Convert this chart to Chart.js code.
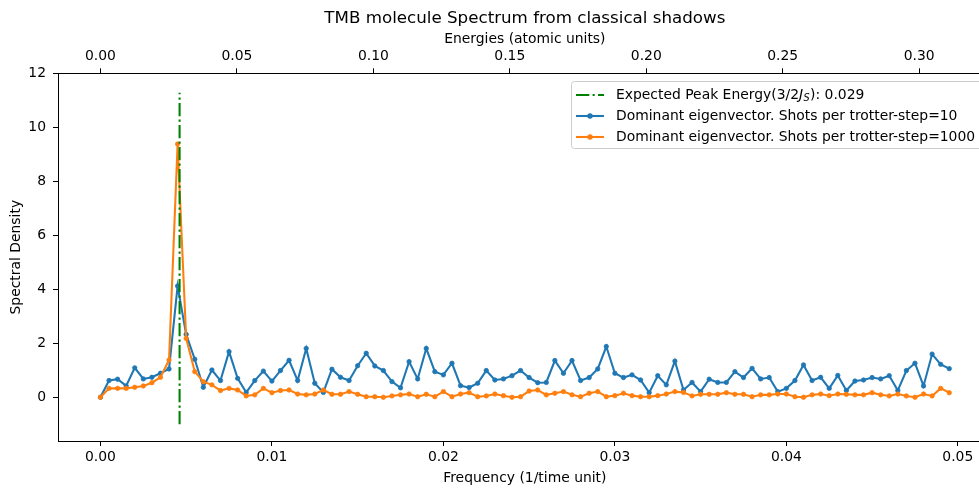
<!DOCTYPE html>
<html><head><meta charset="utf-8">
<script src="https://cdn.jsdelivr.net/npm/chart.js@4.4.1/dist/chart.umd.min.js"></script>
<style>
html,body{margin:0;padding:0;background:#fff;overflow:hidden;width:979px;height:489px;}
#wrap{width:979px;height:489px;overflow:hidden;position:relative;background:#fff;}
canvas{display:block;}
</style></head><body>
<div id="wrap"><canvas id="c" width="1000" height="489" style="width:1000px;height:489px"></canvas></div>
<script>
// ---- data ----
const frequencies = [0,0.0005,0.001,0.0015,0.002,0.0025,0.003,0.0035,0.004,0.0045,
0.005,0.0055,0.006,0.0065,0.007,0.0075,0.008,0.0085,0.009,0.0095,
0.01,0.0105,0.011,0.0115,0.012,0.0125,0.013,0.0135,0.014,0.0145,
0.015,0.0155,0.016,0.0165,0.017,0.0175,0.018,0.0185,0.019,0.0195,
0.02,0.0205,0.021,0.0215,0.022,0.0225,0.023,0.0235,0.024,0.0245,
0.025,0.0255,0.026,0.0265,0.027,0.0275,0.028,0.0285,0.029,0.0295,
0.03,0.0305,0.031,0.0315,0.032,0.0325,0.033,0.0335,0.034,0.0345,
0.035,0.0355,0.036,0.0365,0.037,0.0375,0.038,0.0385,0.039,0.0395,
0.04,0.0405,0.041,0.0415,0.042,0.0425,0.043,0.0435,0.044,0.0445,
0.045,0.0455,0.046,0.0465,0.047,0.0475,0.048,0.0485,0.049,0.0495];

const shots10 = [0,0.62,0.67,0.42,1.09,0.68,0.74,0.89,1.05,4.12,
2.33,1.41,0.37,1.01,0.62,1.69,0.70,0.18,0.62,0.97,
0.60,0.99,1.37,0.62,1.81,0.52,0.18,1.04,0.74,0.62,
1.17,1.63,1.16,0.99,0.58,0.35,1.32,0.68,1.81,0.95,
0.83,1.26,0.43,0.36,0.52,0.99,0.64,0.68,0.80,0.99,
0.73,0.54,0.55,1.36,0.89,1.36,0.62,0.73,1.05,1.88,
0.89,0.73,0.83,0.64,0.17,0.80,0.46,1.34,0.27,0.55,
0.21,0.67,0.55,0.55,0.95,0.73,1.07,0.68,0.73,0.21,
0.33,0.62,1.20,0.62,0.74,0.33,0.81,0.25,0.60,0.64,
0.73,0.68,0.80,0.25,0.99,1.26,0.42,1.60,1.22,1.06];

const shots1000 = [0,0.33,0.33,0.33,0.37,0.42,0.54,0.74,1.38,9.38,
2.18,0.95,0.58,0.46,0.25,0.33,0.27,0.05,0.09,0.33,
0.17,0.25,0.27,0.12,0.09,0.12,0.27,0.11,0.11,0.21,
0.11,0.02,0.02,0.00,0.05,0.09,0.12,0.02,0.11,0.02,
0.21,0.02,0.12,0.17,0.02,0.05,0.12,0.06,0.00,0.02,
0.23,0.27,0.09,0.15,0.21,0.09,0.02,0.15,0.21,0.02,
0.06,0.15,0.06,0.02,0.02,0.06,0.12,0.21,0.18,0.05,
0.11,0.11,0.11,0.17,0.11,0.11,0.02,0.09,0.09,0.12,
0.12,0.02,0.00,0.09,0.12,0.06,0.12,0.11,0.09,0.09,
0.17,0.09,0.05,0.12,0.05,0.00,0.12,0.05,0.33,0.17];

const peakEnergy = 0.029;
const vlineRange = [-1, 11.28];

const freqTicks = [0, 0.01, 0.02, 0.03, 0.04, 0.05];
const energyTicks = [0, 0.05, 0.10, 0.15, 0.20, 0.25, 0.30];
const densityTicks = [0, 2, 4, 6, 8, 10, 12];

const seriesLabels = [
  'Expected Peak Energy',
  'Dominant eigenvector. Shots per trotter-step=10',
  'Dominant eigenvector. Shots per trotter-step=1000'
];

// ---- styling / scale setup ----
const TWO_PI = 2 * Math.PI;
const xMin = -0.002475, xMax = 0.051975;
const FONT = 'DejaVu Sans';
const FS = 13.9;
const tickFont = {family: FONT, size: FS};
const BLUE = '#1f77b4', ORANGE = '#ff7f0e', GREEN = '#008000';
const DASHDOT = [13.3, 3.3, 2.1, 3.3];
const LW = 2.08;

const xy = (xs, ys) => xs.map((x, i) => ({x: x, y: ys[i]}));
const peakFreq = peakEnergy / TWO_PI;

const bgPlugin = {
  id: 'bg',
  beforeDraw(chart) {
    const ctx = chart.ctx;
    ctx.save(); ctx.fillStyle = '#fff';
    ctx.fillRect(0, 0, chart.width, chart.height); ctx.restore();
  }
};

const legendPlugin = {
  id: 'mplLegend',
  afterDraw(chart) {
    const ctx = chart.ctx;
    ctx.save();
    const bx = 571.5, by = 81.5, bw = 420, bh = 67;
    ctx.beginPath();
    ctx.roundRect(bx, by, bw, bh, 3);
    ctx.fillStyle = 'rgba(255,255,255,0.8)';
    ctx.fill();
    ctx.strokeStyle = '#cccccc'; ctx.lineWidth = 1; ctx.stroke();
    const rows = [95, 116, 137];
    const hx0 = 576, hx1 = 604, tx = 616;
    const colors = [GREEN, BLUE, ORANGE];
    const f = FS + 'px "' + FONT + '"';
    rows.forEach((ry, i) => {
      ctx.beginPath();
      ctx.strokeStyle = colors[i];
      ctx.lineWidth = LW;
      ctx.setLineDash(i === 0 ? DASHDOT : []);
      ctx.moveTo(hx0, ry); ctx.lineTo(hx1, ry); ctx.stroke();
      ctx.setLineDash([]);
      if (i > 0) {
        ctx.beginPath(); ctx.fillStyle = colors[i];
        ctx.arc((hx0 + hx1) / 2, ry, 2.7, 0, TWO_PI); ctx.fill();
      }
      ctx.fillStyle = '#000';
      ctx.textBaseline = 'middle';
      ctx.textAlign = 'left';
      ctx.font = f;
      if (i === 0) {
        let x = tx;
        const p1 = seriesLabels[0] + '(3/2';
        ctx.fillText(p1, x, ry); x += ctx.measureText(p1).width;
        ctx.font = 'italic ' + f;
        ctx.fillText('J', x, ry); x += ctx.measureText('J').width + 0.3;
        ctx.font = 'italic 9.7px "' + FONT + '"';
        ctx.fillText('S', x, ry + 3.5); x += ctx.measureText('S').width + 0.5;
        ctx.font = f;
        ctx.fillText('): ' + peakEnergy.toFixed(3), x, ry);
      } else {
        ctx.fillText(seriesLabels[i], tx, ry);
      }
    });
    ctx.restore();
  }
};

const axisCommon = {
  grid: {drawOnChartArea: false, drawTicks: true, tickLength: 5, color: '#000', lineWidth: 1},
  border: {display: true, color: '#000', width: 1}
};

new Chart(document.getElementById('c'), {
  type: 'line',
  data: {
    datasets: [
      {
        label: seriesLabels[0],
        data: [{x: peakFreq, y: vlineRange[0]}, {x: peakFreq, y: vlineRange[1]}],
        borderColor: GREEN, borderWidth: LW, borderDash: DASHDOT,
        pointRadius: 0, fill: false, order: 0
      },
      {
        label: seriesLabels[1],
        data: xy(frequencies, shots10),
        borderColor: BLUE, backgroundColor: BLUE, borderWidth: LW,
        pointRadius: 2.2, pointBorderWidth: 0.8, pointBackgroundColor: BLUE, pointBorderColor: BLUE,
        tension: 0, fill: false, order: 2
      },
      {
        label: seriesLabels[2],
        data: xy(frequencies, shots1000),
        borderColor: ORANGE, backgroundColor: ORANGE, borderWidth: LW,
        pointRadius: 2.2, pointBorderWidth: 0.8, pointBackgroundColor: ORANGE, pointBorderColor: ORANGE,
        tension: 0, fill: false, order: 1
      }
    ]
  },
  options: {
    responsive: false,
    devicePixelRatio: 1,
    animation: false,
    layout: {padding: {left: 0, right: 8.3, top: 0, bottom: 0}},
    plugins: {
      legend: {display: false},
      tooltip: {enabled: false},
      title: {
        display: true, fullSize: false,
        text: 'TMB molecule Spectrum from classical shadows',
        color: '#000', font: {family: FONT, size: 16.7, weight: 'normal'},
        padding: {top: 9, bottom: 0}
      }
    },
    scales: {
      x: Object.assign({}, axisCommon, {
        type: 'linear', position: 'bottom', min: xMin, max: xMax,
        afterBuildTicks: s => { s.ticks = freqTicks.map(v => ({value: v})); },
        afterFit: s => { s.height = 48; },
        ticks: {callback: v => Number(v).toFixed(2), font: tickFont, color: '#000', padding: 3.5, maxRotation: 0, autoSkip: false},
        title: {display: true, text: 'Frequency (1/time unit)', color: '#000', font: tickFont, padding: {top: 0, bottom: 2.6}}
      }),
      xTop: Object.assign({}, axisCommon, {
        type: 'linear', position: 'top', min: xMin * TWO_PI, max: xMax * TWO_PI,
        afterBuildTicks: s => { s.ticks = energyTicks.map(v => ({value: v})); },
        afterFit: s => { s.height = 44.3; },
        ticks: {callback: v => Number(v).toFixed(2), font: tickFont, color: '#000', padding: 4, maxRotation: 0, autoSkip: false},
        title: {display: true, text: 'Energies (atomic units)', color: '#000', font: tickFont, padding: {top: 2.2, bottom: 0}}
      }),
      y: Object.assign({}, axisCommon, {
        type: 'linear', position: 'left', min: -1.62, max: 12,
        afterBuildTicks: s => { s.ticks = densityTicks.map(v => ({value: v})); },
        afterFit: s => { s.width = 58; },
        ticks: {callback: v => String(v), font: tickFont, color: '#000', padding: 7, autoSkip: false},
        title: {display: true, text: 'Spectral Density', color: '#000', font: tickFont, padding: {top: 7.6, bottom: 0}}
      })
    }
  },
  plugins: [bgPlugin, legendPlugin]
});
</script></body></html>
